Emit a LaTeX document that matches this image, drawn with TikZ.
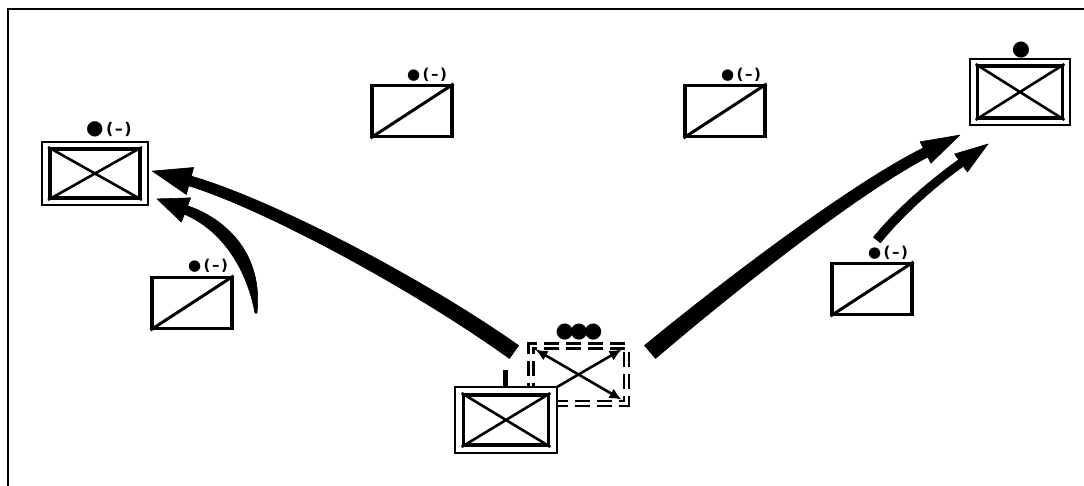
\documentclass[tikz,border=0pt]{standalone}
\usepackage{fontspec}
\newfontfamily\symfont{DejaVu Sans}
\usetikzlibrary{arrows.meta}
\tikzset{
  sbox/.style={draw, line width=3.2pt, minimum width=80pt, minimum height=51pt, inner sep=0pt, fill=white},
  obox/.style={draw, line width=2.8pt, inner sep=0pt, fill=white},
  ibox/.style={draw, line width=3.8pt, inner sep=0pt},
  xline/.style={line width=2.6pt},
  dline/.style={line width=3pt},
  harrow/.style={fill=black, draw=black, line width=0.6pt, line join=round},
  dbox/.style={draw, line width=2.5pt, double, double distance=2.5pt, dash pattern=on 15pt off 7pt, minimum width=95.5pt, minimum height=57.5pt, inner sep=0pt},
  xarr/.style={line width=2.6pt, arrows={-Latex[length=12pt,width=11pt]}},
  xarrb/.style={line width=2.6pt, arrows={Latex[length=12pt,width=11pt]-Latex[length=12pt,width=11pt]}},
  lbl/.style={inner sep=0pt, font=\symfont}
}
\newcommand{\unitlbl}[2]{{\fontsize{#1}{#1}\selectfont ●}\kern2.5pt{\fontsize{#2}{#2}\selectfont\bfseries(\kern1.5pt–\kern1.5pt)}}
\begin{document}
\begin{tikzpicture}[x=1pt,y=-1pt]
\useasboundingbox (0,0) rectangle (1084,486);
% frame
\draw[line width=2pt] (8,486) -- (8,9) -- (1084,9);

% single boxes
\node[sbox] (t1) at (412,111) {};
\draw[dline] (t1.south west) -- (t1.north east);
\node[sbox] (t2) at (725,111) {};
\draw[dline] (t2.south west) -- (t2.north east);
\node[sbox] (lm) at (192,303) {};
\draw[dline] (lm.south west) -- (lm.north east);
\node[sbox] (rm) at (872,289) {};
\draw[dline] (rm.south west) -- (rm.north east);

% labels
\node[lbl] (t1l) at (427,75) {\unitlbl{15}{15}};
\node[lbl] (t2l) at (741,75) {\unitlbl{15}{15}};
\node[lbl] (lml) at (208,266) {\unitlbl{15}{15}};
\node[lbl] (rml) at (888,253) {\unitlbl{15}{15}};
\node[lbl] (lol) at (109,129) {\unitlbl{20}{16}};
\node[lbl] (rol) at (1021,50) {\fontsize{21}{21}\selectfont ●};
\node[lbl] (dbl) at (579,332) {\fontsize{21}{21}\selectfont ●\kern-4pt●\kern-4pt●};

% left double box
\node[obox, minimum width=106pt, minimum height=63pt] (lo) at (95,173.5) {};
\node[ibox, minimum width=90pt, minimum height=49pt] (li) at (95,173.5) {};
\draw[xline] (li.north west) -- (li.south east) (li.south west) -- (li.north east);

% right double box
\node[obox, minimum width=100pt, minimum height=66pt] (ro) at (1020,92) {};
\node[ibox, minimum width=85pt, minimum height=52pt] (ri) at (1020,92) {};
\draw[xline] (ri.north west) -- (ri.south east) (ri.south west) -- (ri.north east);

% dashed box
\node[dbox] (db) at (578.5,374.5) {};
\draw[xarrb] ([shift={(6,5)}]db.north west) -- ([shift={(-6,-5)}]db.south east);
\draw[xarr] ([shift={(6,-5)}]db.south west) -- ([shift={(-6,5)}]db.north east);

% bottom double box
\node[obox, minimum width=102pt, minimum height=66pt] (bo) at (506,420) {};
\node[ibox, minimum width=85pt, minimum height=50pt] (bi) at (506,420) {};
\draw[xline] (bi.north west) -- (bi.south east) (bi.south west) -- (bi.north east);
\draw[line width=5pt] ([xshift=-1pt]bo.north) -- ++(0,-16);

% big arrow to the left box
\coordinate (la1) at (514,352);
\coordinate (la2) at (152.3,171.1);
\fill[harrow] (518.6,345.5) .. controls (423.5,278.4) and (271.7,199.3) .. (191.3,176.2)
  -- (193.6,167.5) -- (la2) -- (186.4,194.5) -- (188.7,185.8)
  .. controls (268.3,210.7) and (416.5,291.6) .. (509.4,358.5) -- cycle;

% small arrow to the left box
\coordinate (lb1) at (256,313);
\coordinate (lb2) at (157.1,198.9);
\fill[harrow] (257,313) .. controls (263.3,254.8) and (227.2,219.4) .. (187.6,205.8)
  -- (190.7,197.9) -- (lb2) -- (181.3,222.1) -- (184.4,214.2)
  .. controls (222.8,230.6) and (246.7,269.2) .. (255,313) -- cycle;

% big arrow to the right box
\coordinate (ra1) at (650,352);
\coordinate (ra2) at (959.8,135.1);
\fill[harrow] (655.5,358.5) .. controls (734.6,290.9) and (856.7,194.3) .. (927.8,157)
  -- (930.9,163.2) -- (ra2) -- (920.1,141.8) -- (923.2,148)
  .. controls (851.3,183.7) and (725.4,279.1) .. (644.5,345.5) -- cycle;

% small arrow to the right box
\coordinate (rb1) at (877,240);
\coordinate (rb2) at (988,144);
\fill[harrow] (880.5,242.8) .. controls (900,218.3) and (932.3,188.3) .. (963.3,166.3)
  -- (967.4,172) -- (rb2) -- (954.6,154) -- (958.7,159.7)
  .. controls (927.7,181.7) and (894,211.7) .. (873.5,237.2) -- cycle;
\end{tikzpicture}
\end{document}
